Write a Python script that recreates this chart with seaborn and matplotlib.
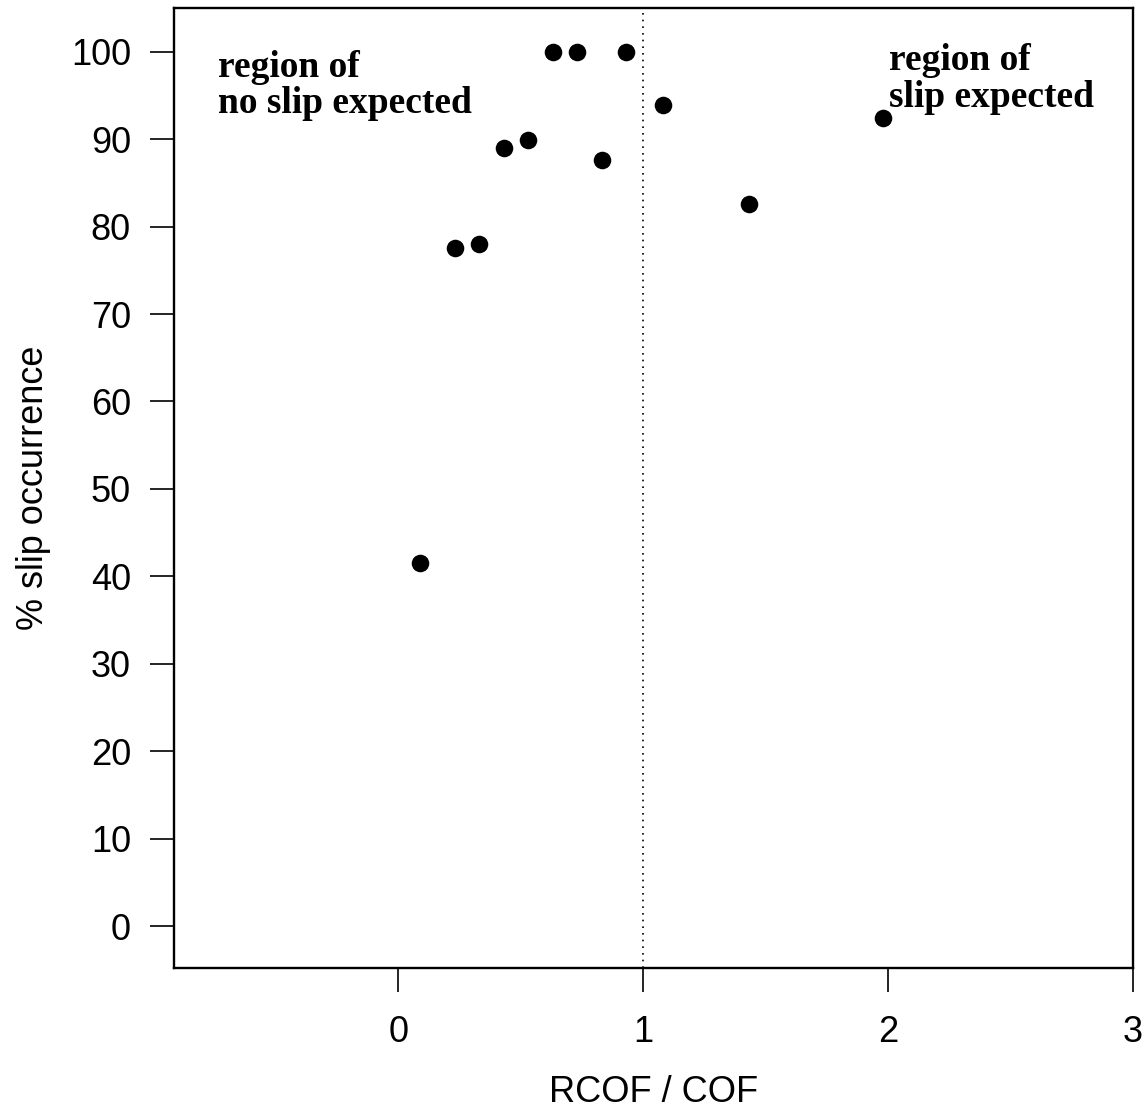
import matplotlib
matplotlib.use("Agg")
import matplotlib.pyplot as plt
import seaborn as sns
import pandas as pd

# RCOF/COF ratio and observed slip occurrence (%)
ratio = [0.09, 0.23, 0.33, 0.43, 0.53, 0.63, 0.73, 0.83, 0.93, 1.08, 1.43, 1.98]
slip_pct = [41.5, 77.6, 78.0, 89.0, 89.9, 100.0, 100.0, 87.6, 100.0, 93.9, 82.6, 92.4]

x_ticks = [0, 1, 2, 3]
y_ticks = [0, 10, 20, 30, 40, 50, 60, 70, 80, 90, 100]
threshold = 1.0

df = pd.DataFrame({"ratio": ratio, "slip": slip_pct})

sns.set_theme(style="ticks")
plt.rcParams["font.family"] = ["Liberation Sans", "DejaVu Sans"]
plt.rcParams["text.color"] = "black"
plt.rcParams["axes.labelcolor"] = "black"
plt.rcParams["xtick.color"] = "black"
plt.rcParams["ytick.color"] = "black"

fig = plt.figure(figsize=(11.48, 11.10), dpi=100)
ax = fig.add_axes([0.1516, 0.1279, 0.987 - 0.1516, 0.9928 - 0.1279])

sns.scatterplot(data=df, x="ratio", y="slip", ax=ax, color="black",
                s=160, edgecolor="black", linewidth=0, zorder=3)

ax.axvline(threshold, color="black", linestyle=(0, (1, 3)), linewidth=1.2, zorder=1)

ax.set_xlim(-0.916, 3.0)
ax.set_ylim(-4.8, 105.0)
ax.set_xticks(x_ticks)
ax.set_yticks(y_ticks)
ax.set_xticklabels([str(t) for t in x_ticks], fontsize=26)
ax.set_yticklabels([str(t) for t in y_ticks], fontsize=26)
ax.tick_params(axis="x", direction="out", length=17, width=1.2, pad=17)
ax.tick_params(axis="y", direction="out", length=17, width=1.2, pad=14)

for side in ["left", "bottom", "top", "right"]:
    ax.spines[side].set_visible(True)
    ax.spines[side].set_color("black")
    ax.spines[side].set_linewidth(1.7)

ax.set_xlabel("RCOF / COF", fontsize=26, labelpad=18)
ax.set_ylabel("% slip occurrence", fontsize=26, labelpad=14)

annot = dict(fontsize=27, fontfamily="Liberation Serif", fontweight="bold",
             va="baseline", ha="left", color="black")
ax.text(-0.736, 97.1, "region of", **annot)
ax.text(-0.736, 93.0, "no slip expected", **annot)
ax.text(2.004, 97.9, "region of", **annot)
ax.text(2.004, 93.7, "slip expected", **annot)

fig.savefig("out.png", dpi=100, facecolor="white")
